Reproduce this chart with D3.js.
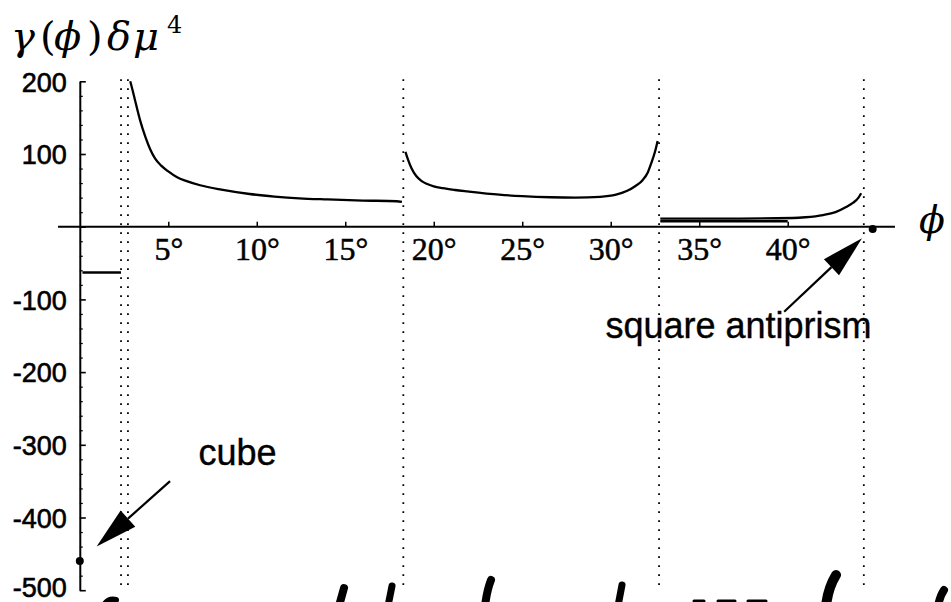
<!DOCTYPE html>
<html>
<head>
<meta charset="utf-8">
<script src="https://cdn.jsdelivr.net/npm/d3@7/dist/d3.min.js"></script>
<style>
  html, body { margin: 0; padding: 0; background: #fff; }
  svg { display: block; }
</style>
</head>
<body>
<svg id="chart" width="951" height="602"></svg>
<script>
// ---- data -------------------------------------------------------------
// gamma(phi) * dmu^4 on each branch, as [phi in degrees, value]
const branchCube = [[0.15, -63], [2.33, -63]];
const branchA = [[2.85, 200], [3.0, 186], [3.12, 174], [3.4, 147], [3.7, 124], [3.97, 107],
  [4.25, 94], [4.6, 84], [5.0, 76], [5.5, 68], [6.0, 63], [6.8, 57], [8, 51], [9.6, 45],
  [11, 41.5], [12.4, 39], [14, 37.5], [16, 36], [17.9, 35], [18.2, 34]];
const branchB = [[18.4, 103], [18.55, 92], [18.75, 80], [19.0, 70], [19.3, 63], [19.6, 59],
  [20.0, 55.5], [20.5, 53], [21.2, 50.5], [21.9, 48.5], [23.7, 44], [25, 42], [26.6, 40.5],
  [28, 40], [29.4, 41], [30.3, 44], [30.9, 49], [31.4, 56], [31.8, 64], [32.1, 75],
  [32.3, 88], [32.5, 103], [32.65, 118]];
const branchC = [[32.8, 11], [36, 11], [40.3, 12], [41, 13], [42, 16], [42.7, 20],
  [43.3, 27], [43.7, 33], [44.0, 40], [44.15, 46]];
const branchD = [[32.8, 7.5], [40.0, 7.5]];

// transition angles (dotted verticals)
const transitions = [2.33, 2.72, 18.28, 32.73, 44.3];

// special configurations
const specialPoints = [
  { name: "cube", phi: 0, value: -460 },
  { name: "square antiprism", phi: 44.8, value: -3 }
];
const specialLabels = [
  { text: "cube", phi: 6.7, value: -328 },
  { text: "square antiprism", phi: 29.7, value: -153 }
];
const specialArrows = [
  { from: [5.1, -350], to: [0.95, -440] },
  { from: [39.8, -117], to: [44.2, -16] }
];

// ticks
const xTickValues = [5, 10, 15, 20, 25, 30, 35, 40];
const yTickValues = [200, 100, 0, -100, -200, -300, -400, -500];
const yMinorValues = [180, 160, 140, 120, 80, 60, 40, 20, -20, -40, -60, -80,
  -120, -140, -160, -180, -220, -240, -260, -280, -320, -340, -360, -380,
  -420, -440, -460, -480];

// ---- scales -------------------------------------------------------------
const svg = d3.select("#chart");
const x = d3.scaleLinear().domain([0, 45]).range([79.8, 876.2]);
const y = d3.scaleLinear().domain([-500, 200]).range([590.2, 81.3]);

const ink = "#000";

// dotted transition lines
svg.append("g").selectAll("line").data(transitions).join("line")
  .attr("x1", d => x(d)).attr("x2", d => x(d))
  .attr("y1", y(200) - 2).attr("y2", y(-500))
  .attr("stroke", ink).attr("stroke-width", 1.8)
  .attr("stroke-dasharray", "1.8,7.2");

// horizontal phi axis
svg.append("line")
  .attr("x1", x(-1.23)).attr("x2", x(46.06))
  .attr("y1", y(0)).attr("y2", y(0))
  .attr("stroke", ink).attr("stroke-width", 2);

const xAxis = d3.axisBottom(x)
  .tickValues(xTickValues)
  .tickSizeInner(-5).tickSizeOuter(0).tickPadding(11)
  .tickFormat(d => d + "°");
const gx = svg.append("g").attr("transform", `translate(0,${y(0)})`).call(xAxis);
gx.select(".domain").remove();
gx.selectAll(".tick line").attr("stroke", ink).attr("stroke-width", 1.5);
gx.selectAll(".tick text")
  .attr("fill", ink)
  .attr("stroke", ink).attr("stroke-width", 0.5)
  .style("font-family", "'Liberation Serif', 'DejaVu Serif', serif")
  .style("font-size", "32px");

// vertical axis
const yAxis = d3.axisLeft(y)
  .tickValues(yTickValues)
  .tickSizeInner(-6).tickSizeOuter(0).tickPadding(13)
  .tickFormat(d => d === 0 ? "" : String(d));
const gy = svg.append("g").attr("transform", `translate(${x(0)},0)`).call(yAxis);
gy.select(".domain").attr("stroke", ink).attr("stroke-width", 2);
gy.selectAll(".tick line").attr("stroke", ink).attr("stroke-width", 1.6);
gy.selectAll(".tick text")
  .attr("fill", ink)
  .attr("stroke", ink).attr("stroke-width", 0.6)
  .attr("dy", d => d === -500 ? "0.22em" : "0.36em")
  .style("font-family", "'Liberation Sans', Arial, sans-serif")
  .style("font-size", "27px");

const yMinor = d3.axisLeft(y).tickValues(yMinorValues)
  .tickSizeInner(-3).tickSizeOuter(0).tickFormat("");
const gyMinor = svg.append("g").attr("transform", `translate(${x(0)},0)`).call(yMinor);
gyMinor.select(".domain").remove();
gyMinor.selectAll(".tick line").attr("stroke", ink).attr("stroke-width", 1.2);

// branches
const line = d3.line().x(d => x(d[0])).y(d => y(d[1])).curve(d3.curveMonotoneX);
const branches = [branchCube, branchA, branchB, branchC, branchD];
svg.append("g").selectAll("path").data(branches).join("path")
  .attr("d", line)
  .attr("fill", "none").attr("stroke", ink).attr("stroke-width", 2.3)
  .attr("stroke-linejoin", "round");

// special points
svg.append("g").selectAll("circle").data(specialPoints).join("circle")
  .attr("cx", d => x(d.phi)).attr("cy", d => y(d.value))
  .attr("r", 4).attr("fill", ink);

// arrows with solid triangular heads
const headLen = 42, headHalf = 11;
const arrowG = svg.append("g");
specialArrows.forEach(a => {
  const x0 = x(a.from[0]), y0 = y(a.from[1]);
  const x1 = x(a.to[0]), y1 = y(a.to[1]);
  const len = Math.hypot(x1 - x0, y1 - y0);
  const ux = (x1 - x0) / len, uy = (y1 - y0) / len;
  const bx = x1 - ux * headLen, by = y1 - uy * headLen;
  arrowG.append("line")
    .attr("x1", x0).attr("y1", y0).attr("x2", bx).attr("y2", by)
    .attr("stroke", ink).attr("stroke-width", 2.2);
  arrowG.append("path")
    .attr("d", `M${x1},${y1}L${bx - uy * headHalf},${by + ux * headHalf}L${bx + uy * headHalf},${by - ux * headHalf}Z`)
    .attr("fill", ink);
});

// labels
svg.append("g").selectAll("text").data(specialLabels).join("text")
  .attr("x", d => x(d.phi)).attr("y", d => y(d.value))
  .attr("fill", ink)
  .attr("stroke", ink).attr("stroke-width", 0.4)
  .style("font-family", "'Liberation Sans', Arial, sans-serif")
  .style("font-size", "36px")
  .text(d => d.text);

// axis titles
const mathFont = "'DejaVu Serif', 'Liberation Serif', serif";
const title = svg.append("text").attr("y", 50).attr("fill", ink)
  .style("font-family", mathFont).style("font-size", "40px");
[["γ", 11, true], ["(", 40, false], ["ϕ", 54, true], [")", 87, false],
 ["δ", 107, true], ["μ", 133, true]].forEach(([t, px, it]) => {
  title.append("tspan").attr("x", px).style("font-style", it ? "italic" : "normal").text(t);
});
svg.append("text").attr("x", 167).attr("y", 33).attr("fill", ink)
  .style("font-family", mathFont).style("font-size", "24px").text("4");

svg.append("text").attr("x", 919).attr("y", 233).attr("fill", ink)
  .style("font-family", mathFont).style("font-size", "38px").style("font-style", "italic")
  .text("ϕ");

// pen strokes running along the bottom edge of the page
const pen = svg.append("g").attr("fill", "none").attr("stroke", ink)
  .attr("stroke-linecap", "round");
[["M104,605 Q109,598 116,600", 6],
 ["M339,606 L344,588", 8],
 ["M388,606 L392,586", 7],
 ["M485,606 Q487,590 491,580", 8],
 ["M618,606 L622,585", 7],
 ["M826,606 Q828,588 836,575", 10],
 ["M938,606 Q940,596 944,590", 8],
 ["M694,601 L704,601", 3], ["M718,601 L735,601", 3], ["M748,601 L766,601", 3]
].forEach(([d, w]) => pen.append("path").attr("d", d).attr("stroke-width", w));
</script>
</body>
</html>
